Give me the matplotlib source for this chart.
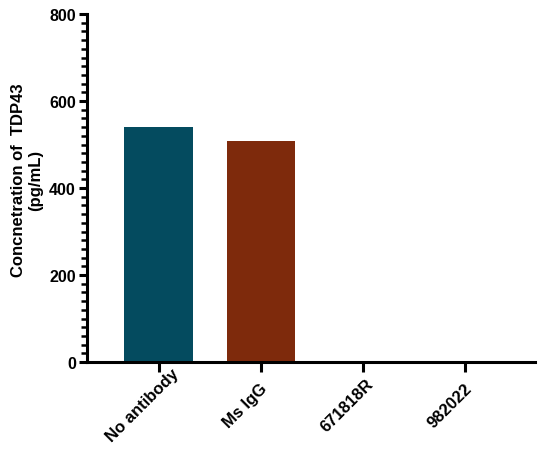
import matplotlib
matplotlib.use("Agg")
import matplotlib.pyplot as plt
import matplotlib.transforms as mtransforms
import numpy as np
from matplotlib.ticker import MultipleLocator

categories = ["No antibody", "Ms IgG", "671818R", "982022"]
values = [540, 508, 0, 0]
colors = ["#044b5f", "#7e2a0c", "#044b5f", "#7e2a0c"]

plt.rcParams['font.family'] = ['Liberation Sans', 'DejaVu Sans']
plt.rcParams['font.weight'] = 'bold'

fig = plt.figure(figsize=(5.5, 4.56), dpi=100)
ax = fig.add_axes([87 / 550, 1 - 363 / 456, (535 - 87) / 550, (363 - 15) / 456])

x = np.arange(len(categories))
ax.bar(x, values, width=0.67, color=colors)

ax.set_xlim(-0.7, 3.68)
ax.set_ylim(0, 800)
ax.yaxis.set_major_locator(MultipleLocator(200))
ax.yaxis.set_minor_locator(MultipleLocator(20))

ax.spines['top'].set_visible(False)
ax.spines['right'].set_visible(False)
ax.spines['left'].set_linewidth(2.2)
ax.spines['bottom'].set_linewidth(2.2)

ax.set_xticks(x)
ax.set_xticklabels(categories, rotation=45, ha='center', va='center', rotation_mode='anchor')
ax.tick_params(axis='y', which='major', width=2.2, length=6, labelsize=11.5, pad=2)
ax.tick_params(axis='x', which='major', width=2.2, length=7, labelsize=12, pad=24)
ax.tick_params(axis='y', which='minor', width=1.8, length=4)
shift = mtransforms.ScaledTranslation(-11.5 / 72, 0, fig.dpi_scale_trans)
for lbl in ax.get_xticklabels():
    lbl.set_transform(lbl.get_transform() + shift)
for lbl in ax.get_xticklabels() + ax.get_yticklabels():
    lbl.set_fontweight('bold')

ax.set_ylabel("Concnetration of  TDP43\n(pg/mL)", fontsize=12, fontweight='bold')
ax.yaxis.set_label_coords(-0.098, 0.526)

fig.savefig("out.png", dpi=100)
